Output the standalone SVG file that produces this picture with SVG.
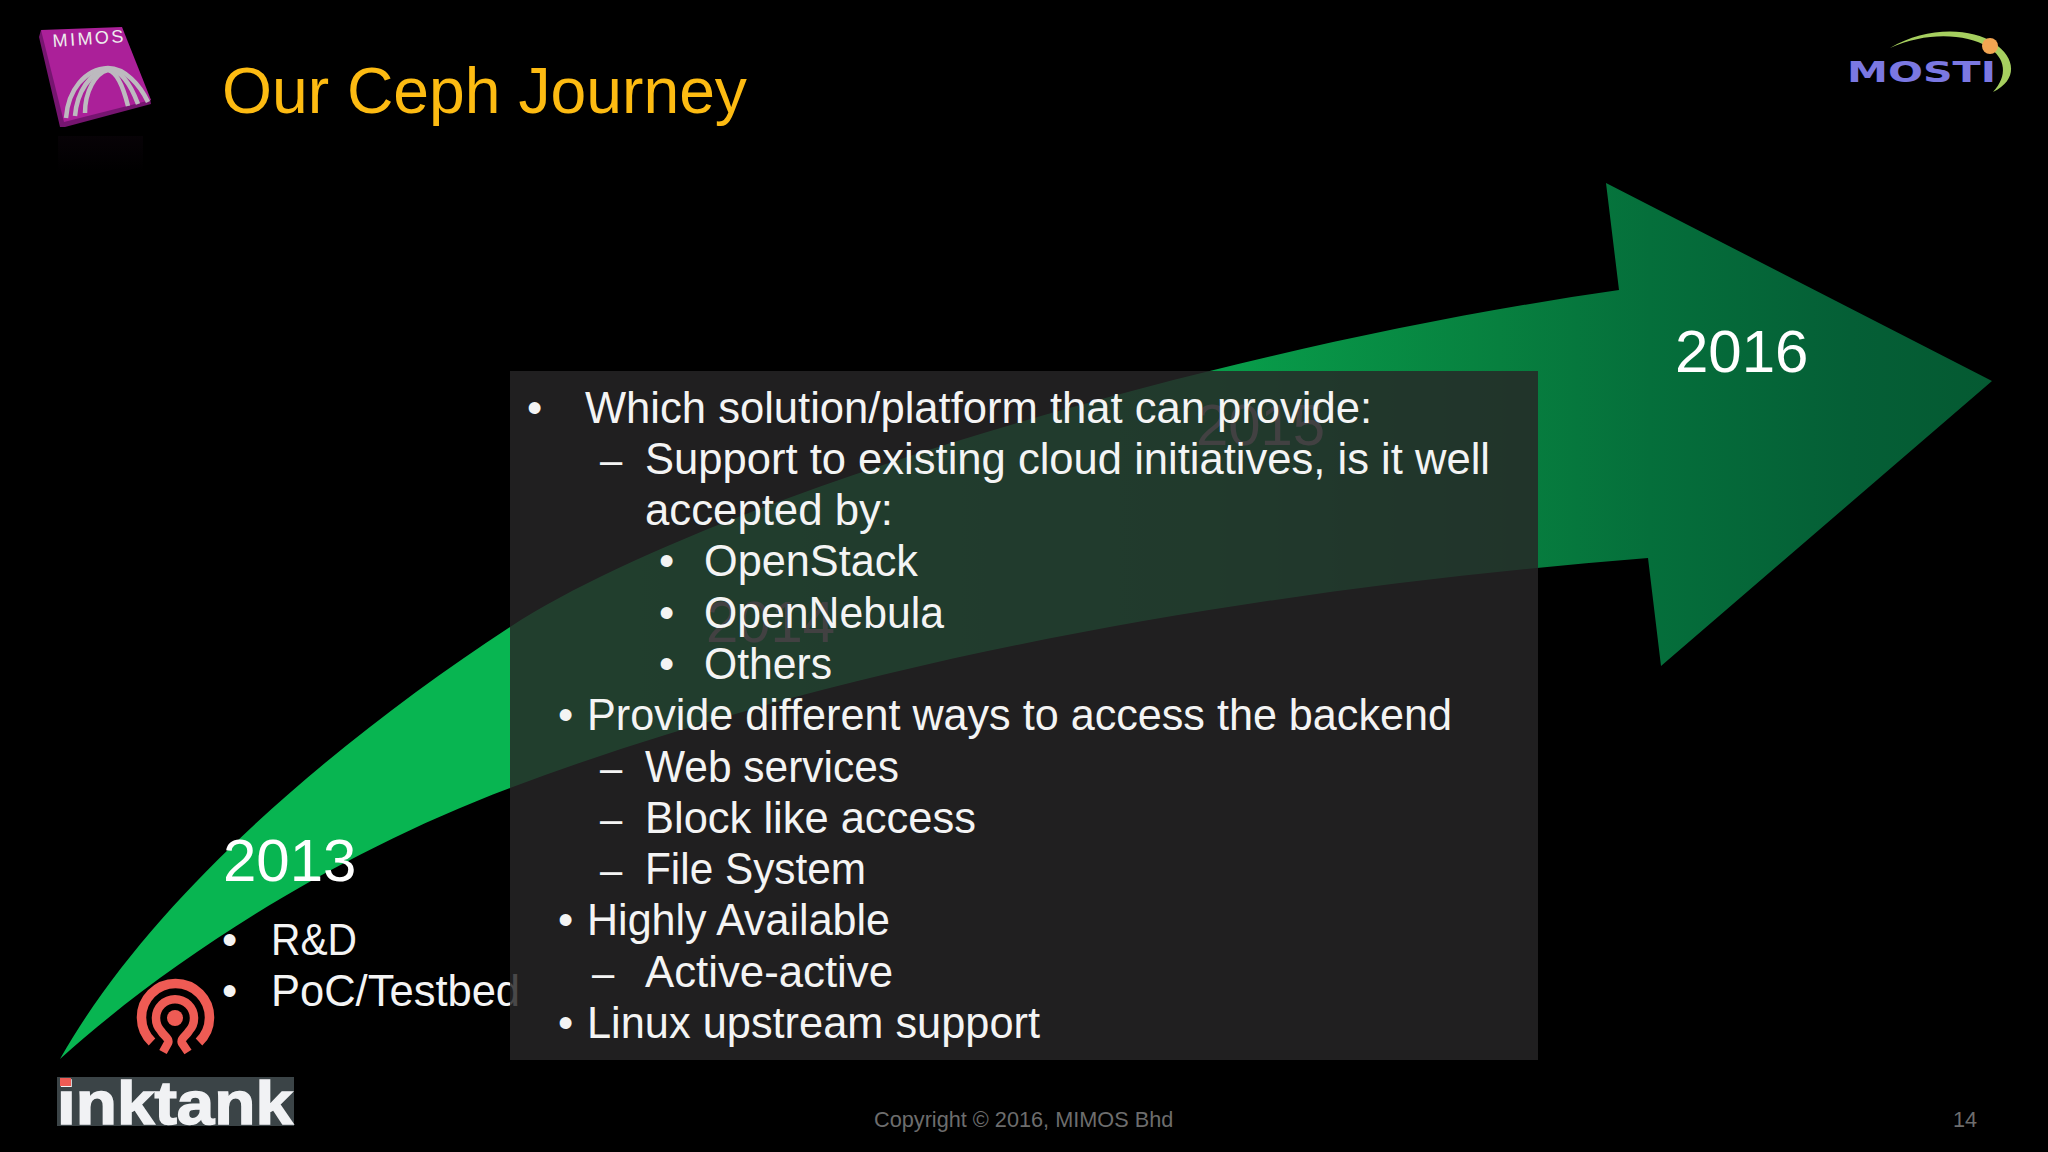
<svg xmlns="http://www.w3.org/2000/svg" width="2048" height="1152" viewBox="0 0 2048 1152">
<defs>
<linearGradient id="ag" gradientUnits="userSpaceOnUse" x1="60" y1="0" x2="1992" y2="0">
<stop offset="0" stop-color="#08b551"/><stop offset="0.3" stop-color="#08b551"/><stop offset="0.59" stop-color="#08a04b"/><stop offset="0.745" stop-color="#07803f"/><stop offset="0.823" stop-color="#056f3b"/><stop offset="0.927" stop-color="#055f36"/><stop offset="1" stop-color="#055a32"/>
</linearGradient>
<linearGradient id="refl" x1="0" y1="0" x2="0" y2="1"><stop offset="0" stop-color="#1c0a1a"/><stop offset="1" stop-color="#000"/></linearGradient>
</defs>
<style>
text{font-family:"Liberation Sans",Arial,sans-serif;fill:#f4f4f4}
.b{font-size:43.500px}
.d{font-size:40px}
.y{font-size:60px;fill:#fff}
.g{font-size:58px;fill:#c8c8c8}
.f{font-size:21.700px;fill:#6d6d6d}
.ring{fill:none;stroke:#ee5b54;stroke-width:9.500}
.arch{fill:none;stroke:#bdbabf;stroke-width:4.500}
</style>
<rect width="2048" height="1152" fill="#000"/>
<g id="arrow">
<path fill="url(#ag)" d="M60 1059C150 900 330 745 510 627C700 503 1200 350 1619 290L1606 183L1992 381L1661 666L1648 558C1250 590 850 660 510 788C330 856 170 960 60 1059Z"/>
</g>
<g id="ghost-years">
<text class="g" x="706" y="642">2014</text>
<text class="g" x="1196" y="445">2015</text>
</g>
<g id="year-2013">
<text class="y" x="223" y="881">2013</text>
<text class="b" x="222" y="955">•</text><text class="b" x="271" y="955" textLength="86" lengthAdjust="spacingAndGlyphs">R&amp;D</text>
<text class="b" x="222" y="1006">•</text><text class="b" x="271" y="1006">PoC/Testbed</text>
</g>
<g id="year-2016"><text class="y" x="1675" y="372">2016</text></g>
<g id="panel">
<rect x="510" y="371" width="1028" height="689" fill="#272526" fill-opacity="0.83"/>
<text class="b" x="527" y="423">•</text><text class="b" x="585" y="423" textLength="787" lengthAdjust="spacingAndGlyphs">Which solution/platform that can provide:</text>
<text class="d" x="600" y="474">–</text><text class="b" x="645" y="474" textLength="845" lengthAdjust="spacingAndGlyphs">Support to existing cloud initiatives, is it well</text>
<text class="b" x="645" y="525" textLength="248" lengthAdjust="spacingAndGlyphs">accepted by:</text>
<text class="b" x="659" y="576">•</text><text class="b" x="704" y="576" textLength="214" lengthAdjust="spacingAndGlyphs">OpenStack</text>
<text class="b" x="659" y="628">•</text><text class="b" x="704" y="628" textLength="240" lengthAdjust="spacingAndGlyphs">OpenNebula</text>
<text class="b" x="659" y="679">•</text><text class="b" x="704" y="679" textLength="128" lengthAdjust="spacingAndGlyphs">Others</text>
<text class="b" x="558" y="730">•</text><text class="b" x="587" y="730" textLength="865" lengthAdjust="spacingAndGlyphs">Provide different ways to access the backend</text>
<text class="d" x="600" y="782">–</text><text class="b" x="645" y="782" textLength="254" lengthAdjust="spacingAndGlyphs">Web services</text>
<text class="d" x="600" y="833">–</text><text class="b" x="645" y="833" textLength="331" lengthAdjust="spacingAndGlyphs">Block like access</text>
<text class="d" x="600" y="884">–</text><text class="b" x="645" y="884" textLength="221" lengthAdjust="spacingAndGlyphs">File System</text>
<text class="b" x="558" y="935">•</text><text class="b" x="587" y="935" textLength="303" lengthAdjust="spacingAndGlyphs">Highly Available</text>
<text class="d" x="592" y="987">–</text><text class="b" x="645" y="987" textLength="248" lengthAdjust="spacingAndGlyphs">Active-active</text>
<text class="b" x="558" y="1038">•</text><text class="b" x="587" y="1038" textLength="453" lengthAdjust="spacingAndGlyphs">Linux upstream support</text>
</g>
<g id="title"><text x="222" y="113" font-size="64" textLength="525" lengthAdjust="spacingAndGlyphs" style="fill:#fdbb12">Our Ceph Journey</text></g>
<g id="mimos-logo">
<rect x="58" y="136" width="85" height="36" fill="url(#refl)" opacity="0.25"/>
<path fill="#761570" d="M41 30L39 37L60 127L65 127L151 104L150 98L64 118L47 34Z"/>
<path fill="#ab2099" d="M41 30L122 27L151 100L64 122Z"/>
<path class="arch" d="M66 118C68 90 85 69 108 68C125 68 140 85 148 102"/>
<path class="arch" d="M75 116C77 92 90 72 108 69C122 70 132 88 138 104"/>
<path class="arch" d="M85 113C85 92 95 73 108 70C118 72 124 90 128 106"/>
<text x="53" y="47" font-size="18" textLength="71" lengthAdjust="spacing" transform="rotate(-4 53 47)" style="fill:#eee">MIMOS</text>
</g>
<g id="mosti-logo">
<path d="M1890 48C1925 27 1970 27 1994 43C2016 58 2018 80 1993 92C2008 76 2006 58 1988 47C1965 33 1925 32 1890 48Z" fill="#a6cf5f"/>
<circle cx="1990" cy="46" r="8" fill="#f2a552"/>
<text x="1847" y="82" font-size="28" font-weight="700" textLength="149" lengthAdjust="spacingAndGlyphs" style="font-family:'DejaVu Sans',sans-serif;fill:#7b78e2">MOSTI</text>
</g>
<g id="ceph-logo">
<circle cx="175" cy="1018" r="8" fill="#ee5b54"/>
<path class="ring" d="M152 1042A34 34 0 1 1 199 1042"/>
<path class="ring" style="stroke-width:8.500" d="M163 1052L168 1043C170 1039 164 1036 161 1031A19 19 0 1 1 189 1031C186 1036 180 1039 182 1043L188 1052"/>
</g>
<g id="inktank-logo">
<rect x="57" y="1077" width="237" height="49" fill="#3b4447"/>
<text x="57" y="1124" font-size="62" font-weight="700" textLength="236" lengthAdjust="spacingAndGlyphs" stroke="#f1f2f4" stroke-width="1.500" style="fill:#f1f2f4">inktank</text>
<rect x="60" y="1078" width="11" height="8" fill="#ee5b54"/>
</g>
<g id="footer">
<text class="f" x="874" y="1127">Copyright © 2016, MIMOS Bhd</text>
<text class="f" x="1953" y="1127">14</text>
</g>
</svg>
